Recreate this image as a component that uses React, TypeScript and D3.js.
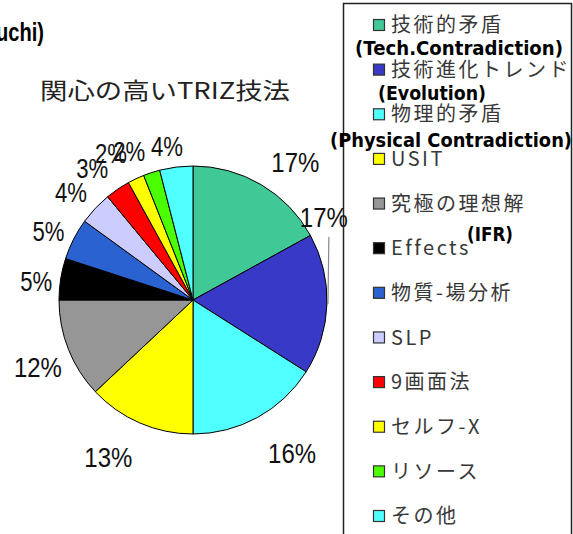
import React from "react";
import * as d3 from "d3";

const categories = [
  "技術的矛盾",
  "技術進化トレンド",
  "物理的矛盾",
  "USIT",
  "究極の理想解",
  "Effects",
  "物質-場分析",
  "SLP",
  "9画面法",
  "セルフ-X",
  "リソース",
  "その他",
];
const englishNotes = ["(Tech.Contradiction)", "(Evolution)", "(Physical Contradiction)", "", "(IFR)", "", "", "", "", "", "", ""];
const values = [17, 17, 16, 13, 12, 5, 5, 4, 3, 2, 2, 4];
const percentLabels = ["17%", "17%", "16%", "13%", "12%", "5%", "5%", "4%", "3%", "2%", "2%", "4%"];
const colors = [
  "#40C896", "#3939C8", "#50FFFF", "#FFFF00", "#969696", "#000000",
  "#2B62D1", "#CCCCFF", "#FF0000", "#FFFF00", "#4CFF00", "#50FFFF",
];
const title = "関心の高いTRIZ技法";

// label layout (angle in degrees clockwise from top, radius from centre)
const labelAngle = [36.5, 57.6, 147, 208.4, 246.6, 276.9, 295.4, 311.5, 322.6, 330.8, 336.8, 350.4];
const labelRadius = [172, 155, 182, 178, 169, 158, 160, 163, 166, 168, 162, 156];
// English notes layout: [x, baseline, width]
const noteLayout: [number, number, number][] = [
  [355, 55, 208], [378, 100, 108], [330, 147, 242], [0, 0, 0], [467, 241, 46],
];

export default function App() {
  const W = 573, H = 534;
  const cx = 193, cy = 300, r = 134;
  const pie = d3.pie<number>().sort(null).value((d) => d)(values);
  const arc = d3.arc<d3.PieArcDatum<number>>().innerRadius(0).outerRadius(r);
  const toRad = (deg: number) => (deg * Math.PI) / 180;

  const legendY = d3.scalePoint<number>().domain(d3.range(categories.length)).range([25, 516]);

  // leader line for the moved label
  const mid1 = (pie[1].startAngle + pie[1].endAngle) / 2;
  const l1x = Math.sin(toRad(labelAngle[1])) * labelRadius[1];
  const l1y = -Math.cos(toRad(labelAngle[1])) * labelRadius[1];

  return (
    <svg width={W} height={H} style={{ position: "absolute", left: 0, top: 0, background: "#fff" }}>
      <text x={-4} y={41} fontFamily="Liberation Sans, Arial, sans-serif" fontWeight="bold" fontSize={25} fill="#000" textLength={48} lengthAdjust="spacingAndGlyphs">
        uchi)
      </text>
      <text x={165} y={99} textAnchor="middle" fontFamily="Noto Sans CJK JP" fontSize={23} fill="#222" textLength={250} lengthAdjust="spacingAndGlyphs">
        {title}
      </text>
      <g transform={`translate(${cx},${cy})`}>
        {pie.map((p, i) => (
          <path key={i} d={arc(p) || ""} fill={colors[i]} stroke="#000" strokeWidth={1} strokeLinejoin="round" />
        ))}
        <line
          x1={l1x + 5}
          y1={l1y + 20}
          x2={Math.sin(mid1) * (r + 1)}
          y2={-Math.cos(mid1) * (r + 1)}
          stroke="#888"
          strokeWidth={1.2}
        />
        {percentLabels.map((t, i) => {
          const a = toRad(labelAngle[i]);
          const x = Math.sin(a) * labelRadius[i];
          const y = -Math.cos(a) * labelRadius[i];
          return (
            <text
              key={i}
              x={x}
              y={y}
              dy="0.36em"
              textAnchor="middle"
              fontFamily="Liberation Sans, Arial, sans-serif"
              fontSize={28}
              fill="#111"
              textLength={t.length * 16}
              lengthAdjust="spacingAndGlyphs"
            >
              {t}
            </text>
          );
        })}
      </g>
      <rect x={343.5} y={3.5} width={228} height={540} fill="none" stroke="#222" strokeWidth={1.5} />
      {categories.map((c, i) => {
        const y = legendY(i) as number;
        return (
          <g key={i}>
            <rect x={373.5} y={y - 5.5} width={11} height={11} fill={colors[i]} stroke="#333" strokeWidth={1.2} />
            <text x={391} y={y} dy="0.36em" fontFamily="Noto Sans CJK JP" fontSize={20} fill="#383838" letterSpacing={2.5}>
              {c}
            </text>
          </g>
        );
      })}
      {englishNotes.map((n, i) =>
        n ? (
          <text
            key={i}
            x={noteLayout[i][0]}
            y={noteLayout[i][1]}
            fontFamily="DejaVu Sans, sans-serif"
            fontWeight="bold"
            fontSize={19}
            fill="#000"
            textLength={noteLayout[i][2]}
            lengthAdjust="spacingAndGlyphs"
          >
            {n}
          </text>
        ) : null
      )}
    </svg>
  );
}
